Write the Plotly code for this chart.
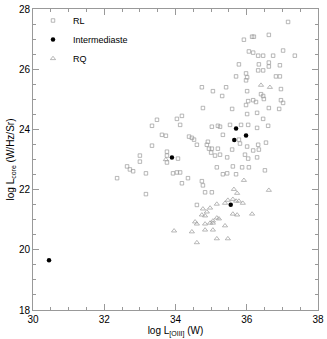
import plotly.graph_objects as go

# RL sources (open squares)
rl_x = [37.16, 35.92, 36.15, 36.20, 36.62, 36.06, 36.18, 36.32, 36.46, 36.74, 37.02, 37.35,
        35.78, 36.34, 36.62, 36.62, 36.32, 36.46, 36.93, 35.70, 35.98, 36.01, 35.98, 36.82,
        36.93, 34.74, 35.05, 35.42, 35.31, 36.01, 36.96, 36.40, 36.46, 36.48, 36.18, 36.26,
        35.98, 36.04, 36.96, 37.02, 36.62, 36.91, 34.77, 35.59, 36.01, 36.29, 36.46, 34.04,
        34.18, 33.48, 33.34, 34.13, 35.02, 35.19, 35.25, 35.53, 35.84, 36.04, 36.29, 36.60,
        33.62, 33.73, 34.38, 34.46, 34.52, 34.60, 34.88, 34.91, 35.33, 35.78, 35.81, 36.32,
        36.54, 33.34, 33.00, 33.00, 33.76, 33.76, 33.76, 34.07, 34.94, 35.02, 35.19, 35.00,
        35.11, 35.25, 35.59, 35.45, 35.95, 36.04, 36.18, 36.34, 36.29, 32.64, 32.72, 32.81,
        32.36, 33.17, 33.93, 34.04, 34.13, 34.18, 34.35, 34.74, 34.77, 34.83, 35.02, 35.16,
        35.33, 35.45, 35.70, 35.61, 35.87, 36.06, 36.51, 33.17, 34.60, 36.01]
rl_y = [27.57, 26.98, 27.08, 27.08, 27.14, 26.59, 26.55, 26.45, 26.45, 26.45, 26.62, 26.45,
        26.16, 26.16, 26.22, 26.09, 25.96, 25.96, 26.13, 25.76, 25.86, 25.73, 25.63, 25.76,
        25.76, 25.40, 25.27, 25.40, 25.11, 25.27, 25.34, 25.17, 25.11, 25.01, 24.97, 24.91,
        24.81, 24.94, 24.97, 24.88, 24.71, 24.68, 24.71, 24.68, 24.51, 24.55, 24.35, 24.35,
        24.45, 24.32, 24.12, 24.15, 24.09, 24.12, 24.09, 24.15, 24.15, 24.15, 24.05, 24.12,
        23.82, 23.79, 23.76, 23.72, 23.66, 23.49, 23.49, 23.59, 23.82, 23.66, 23.53, 23.49,
        23.56, 23.46, 23.13, 22.93, 23.26, 23.13, 22.90, 23.03, 23.36, 23.36, 23.36, 23.23,
        23.13, 23.16, 23.33, 23.07, 23.16, 23.03, 23.30, 23.33, 23.07, 22.77, 22.67, 22.61,
        22.38, 22.54, 22.54, 22.57, 22.57, 22.21, 22.38, 22.28, 22.14, 21.91, 21.91, 22.74,
        22.51, 22.54, 22.51, 22.77, 22.74, 22.74, 22.64, 21.85, 21.49, 23.43]

# Intermediate sources (filled circles)
int_x = [30.45, 33.90, 35.70, 35.98, 35.65, 35.55]
int_y = [19.65, 23.07, 24.03, 23.80, 23.65, 21.50]

# RQ sources (open triangles)
rq_x = [35.92, 36.62, 34.77, 34.97, 34.88, 35.16, 35.39, 35.47, 35.61, 35.70, 35.78, 35.89,
        35.64, 35.73, 34.74, 34.83, 35.05, 35.16, 35.22, 35.61, 35.73, 36.15, 34.55, 34.60,
        34.83, 34.97, 35.05, 35.39, 33.96, 34.46, 34.83, 35.05, 35.16, 35.47, 34.60, 36.65,
        36.40, 33.73]
rq_y = [22.31, 21.98, 21.36, 21.39, 21.26, 21.52, 21.55, 21.65, 21.68, 21.62, 21.62, 21.55,
        22.01, 21.88, 21.16, 21.13, 20.96, 21.06, 21.03, 21.19, 21.16, 21.19, 20.93, 20.86,
        20.86, 20.89, 20.89, 20.80, 20.63, 20.60, 20.66, 20.66, 20.37, 20.37, 20.24, 25.40,
        25.47, 23.00]

grey = "#999999"
fig = go.Figure()
fig.add_trace(go.Scatter(x=rl_x, y=rl_y, mode="markers", name="RL",
                         marker=dict(symbol="square-open", size=3.5, color=grey, line=dict(width=0.7))))
fig.add_trace(go.Scatter(x=int_x, y=int_y, mode="markers", name="Intermediaste",
                         marker=dict(symbol="circle", size=4.5, color="black")))
fig.add_trace(go.Scatter(x=rq_x, y=rq_y, mode="markers", name="RQ",
                         marker=dict(symbol="triangle-up-open", size=4.5, color=grey, line=dict(width=0.7))))

axis = dict(showgrid=False, zeroline=False, showline=True, linecolor="#999999", linewidth=1,
            mirror="allticks", ticks="inside", ticklen=6, tickcolor="#999999", dtick=2,
            minor=dict(ticks="inside", ticklen=3, dtick=0.5, tickcolor="#999999"),
            tickfont=dict(size=10, color="black"), automargin=False)
fig.update_xaxes(axis, range=[30, 38], tickvals=[30, 32, 34, 36, 38],
                 title=dict(text="log L<sub>[OIII]</sub> (W)", font=dict(size=10), standoff=2))
fig.update_yaxes(axis, range=[18, 28], tickvals=[18, 20, 22, 24, 26, 28],
                 title=dict(text="log L<sub>core</sub> (W/Hz/Sr)", font=dict(size=10), standoff=2))
fig.update_layout(width=327, height=339, margin=dict(l=33, r=9, t=6, b=29),
                  plot_bgcolor="white", paper_bgcolor="white",
                  font=dict(family="Liberation Sans, Arial", color="black"),
                  legend=dict(x=0.0, y=1.01, xanchor="left", yanchor="top", bgcolor="rgba(0,0,0,0)",
                              font=dict(size=9), itemwidth=30, tracegroupgap=0))
fig.write_html("out.html", config={"displayModeBar": False},
               post_script="document.body.style.margin='0px';")
